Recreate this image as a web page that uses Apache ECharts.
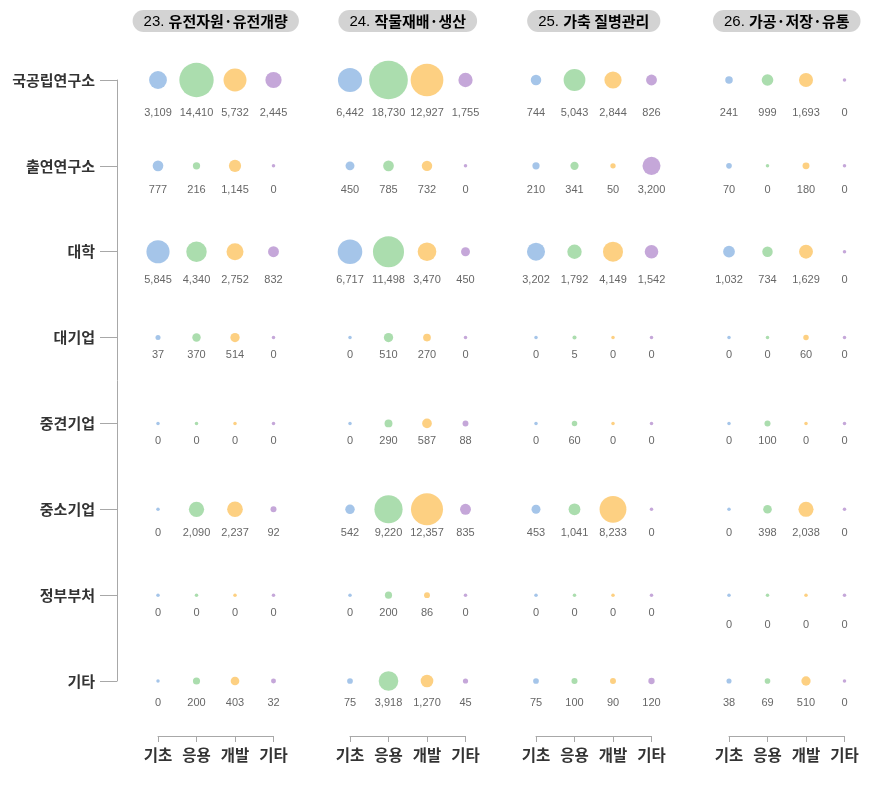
<!DOCTYPE html>
<html>
<head>
<meta charset="utf-8">
<script src="https://cdn.jsdelivr.net/npm/echarts@6/dist/echarts.min.js"></script>
<style>
html,body{margin:0;padding:0;background:#fff;}
#chart{width:886px;height:798px;}
</style>
</head>
<body>
<div id="chart"></div>
<script>
// ---- data ----
const rows = ['국공립연구소', '출연연구소', '대학', '대기업', '중견기업', '중소기업', '정부부처', '기타'];
const stages = ['기초', '응용', '개발', '기타'];
const panelTitles = [['23.', '유전자원·유전개량'], ['24.', '작물재배·생산'], ['25.', '가축 질병관리'], ['26.', '가공·저장·유통']];

const p23 = [
  [3109, 14410, 5732, 2445],
  [777, 216, 1145, 0],
  [5845, 4340, 2752, 832],
  [37, 370, 514, 0],
  [0, 0, 0, 0],
  [0, 2090, 2237, 92],
  [0, 0, 0, 0],
  [0, 200, 403, 32]
];
const p24 = [
  [6442, 18730, 12927, 1755],
  [450, 785, 732, 0],
  [6717, 11498, 3470, 450],
  [0, 510, 270, 0],
  [0, 290, 587, 88],
  [542, 9220, 12357, 835],
  [0, 200, 86, 0],
  [75, 3918, 1270, 45]
];
const p25 = [
  [744, 5043, 2844, 826],
  [210, 341, 50, 3200],
  [3202, 1792, 4149, 1542],
  [0, 5, 0, 0],
  [0, 60, 0, 0],
  [453, 1041, 8233, 0],
  [0, 0, 0, 0],
  [75, 100, 90, 120]
];
const p26 = [
  [241, 999, 1693, 0],
  [70, 0, 180, 0],
  [1032, 734, 1629, 0],
  [0, 0, 60, 0],
  [0, 100, 0, 0],
  [0, 398, 2038, 0],
  [0, 0, 0, 0],
  [38, 69, 510, 0]
];
const panels = [p23, p24, p25, p26];

// ---- styles / layout ----
const stageColors = ['#8fb6e4', '#96d49a', '#fdc463', '#b791d0'];
const panelLefts = [158, 350, 536, 729];
const panelWidth = 115.5;
const gridTop = 80, gridHeight = 601;
const rowLabelOffset = [33, 24, 28, 17, 18, 24, 18, 22];
const labelOverride = { '3-6': 30 };
const numFont = '"Liberation Sans", Arial, sans-serif';
const krFont = '"Noto Sans CJK KR", "Noto Sans", sans-serif';

function fmt(v) { return v.toLocaleString('en-US'); }

const grid = [], xAxis = [], yAxis = [], series = [], graphic = [];
panels.forEach((vals, p) => {
  grid.push({ left: panelLefts[p], top: gridTop, width: panelWidth, height: gridHeight, containLabel: false });
  xAxis.push({
    type: 'category', gridIndex: p, data: stages, boundaryGap: false, position: 'bottom', offset: 55,
    axisLine: { show: true, lineStyle: { color: '#a8a8a8', width: 1 } },
    axisTick: { show: true, length: 6, inside: false, lineStyle: { color: '#a8a8a8' } },
    axisLabel: { margin: 11, fontFamily: krFont, fontWeight: 'bold', fontSize: 15.5, color: '#333' },
    splitLine: { show: false }
  });
  yAxis.push({
    type: 'category', gridIndex: p, data: rows, inverse: true, boundaryGap: false,
    show: p === 0, position: 'left', offset: 41,
    axisLine: { show: true, lineStyle: { color: '#a8a8a8', width: 1 } },
    axisTick: { show: true, length: 17, inside: false, lineStyle: { color: '#a8a8a8' } },
    axisLabel: { margin: 22, fontFamily: krFont, fontWeight: 'bold', fontSize: 15, color: '#333' },
    splitLine: { show: false }
  });
  const data = [];
  vals.forEach((row, r) => {
    row.forEach((v, c) => {
      const off = labelOverride[p + '-' + r] !== undefined ? labelOverride[p + '-' + r] : rowLabelOffset[r];
      data.push({
        value: [c, r, v],
        itemStyle: { color: stageColors[c] },
        label: { offset: [0, off] }
      });
    });
  });
  series.push({
    type: 'scatter', xAxisIndex: p, yAxisIndex: p, data: data,
    symbol: 'circle',
    symbolSize: d => 3.5 + 0.257 * Math.sqrt(d[2]),
    emphasis: { disabled: true },
    label: {
      show: true, position: 'inside', verticalAlign: 'middle', align: 'center',
      formatter: prm => fmt(prm.value[2]),
      fontFamily: numFont, fontSize: 11, color: '#404040'
    },
    z: 3
  });
  const cx = panelLefts[p] + panelWidth / 2;
  graphic.push({
    type: 'text', x: cx, y: 21,
    style: {
      text: '{n|' + panelTitles[p][0] + ' }{t|' + panelTitles[p][1] + '}',
      align: 'center', verticalAlign: 'middle',
      backgroundColor: '#d3d3d3', borderRadius: 12, padding: [4, 11, 3, 11],
      rich: {
        n: { fontFamily: '"Liberation Sans", sans-serif', fontSize: 15, color: '#1e3a6d', fontWeight: 'normal' },
        t: { fontFamily: krFont, fontSize: 15, color: '#1e3a6d', fontWeight: 'bold' }
      }
    }
  });
});

const chart = echarts.init(document.getElementById('chart'), null, { renderer: 'canvas' });
chart.setOption({
  animation: false,
  backgroundColor: '#fff',
  grid, xAxis, yAxis, series, graphic
});
</script>
</body>
</html>
